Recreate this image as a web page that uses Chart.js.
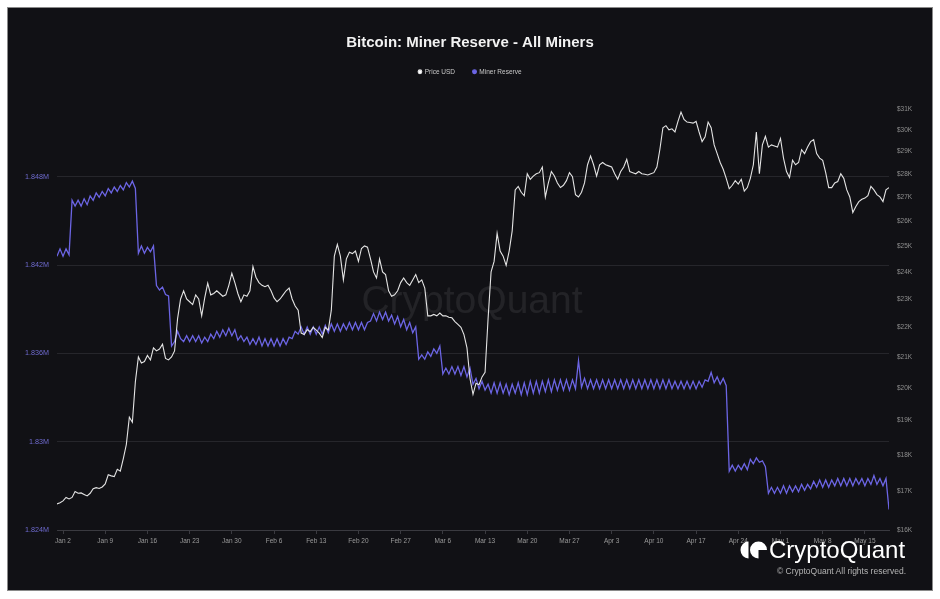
<!DOCTYPE html>
<html>
<head>
<meta charset="utf-8">
<title>Bitcoin: Miner Reserve - All Miners</title>
<script src="https://cdn.jsdelivr.net/npm/chart.js@4.4.0/dist/chart.umd.min.js"></script>
<style>
    html, body { margin: 0; padding: 0; background: #ffffff; }
    .panel {
        position: absolute; left: 7px; top: 7px; width: 926px; height: 584px;
        background: #111115; border: 1px solid #8a8a8a; box-sizing: border-box;
    }
    .wrap { position: absolute; left: 0; top: 0; width: 940px; height: 599px; }
    .brand {
        position: absolute; left: 739px; top: 535px; height: 30px;
        font-family: "Liberation Sans", Arial, sans-serif; color: #ffffff;
        font-size: 24px; line-height: 30px; white-space: nowrap;
    }
    .brand svg { position: absolute; left: 0; top: 6px; }
    .brand span { position: absolute; left: 30px; top: 0; }
    .copy {
        position: absolute; right: 34px; top: 566px;
        font-family: "Liberation Sans", Arial, sans-serif; color: #b4b4b4;
        font-size: 8.5px; line-height: 11px; white-space: nowrap;
    }
</style>
</head>
<body>
<div class="panel"></div>
<div class="wrap"><canvas id="reserveChart" width="940" height="599"></canvas></div>
<div class="brand">
    <svg width="28" height="18" viewBox="0 0 28 18">
        <path d="M9.5 0.5 A8 8.5 0 0 0 9.5 17.5 Z" fill="#ffffff"/>
        <path d="M19.5 0.5 A8.5 8.5 0 1 0 28 9 L19.5 9 Z" fill="#ffffff" transform="rotate(90 19.5 9)"/>
    </svg>
    <span>CryptoQuant</span>
</div>
<div class="copy">© CryptoQuant All rights reserved.</div>

<script>
// ===== Data (12-hour samples, day 0 = Jan 2) =====
const chartTitle = 'Bitcoin: Miner Reserve - All Miners';
const startDay = -1;
const stepDays = 0.5;

const xTickDays = [0, 7, 14, 21, 28, 35, 42, 49, 56, 63, 70, 77, 84, 91, 98, 105, 112, 119, 126, 133];
const xTickLabels = ['Jan 2','Jan 9','Jan 16','Jan 23','Jan 30','Feb 6','Feb 13','Feb 20','Feb 27','Mar 6',
    'Mar 13','Mar 20','Mar 27','Apr 3','Apr 10','Apr 17','Apr 24','May 1','May 8','May 15'];

const reserveTicks = [1.824, 1.830, 1.836, 1.842, 1.848];
const priceTicks = [16000,17000,18000,19000,20000,21000,22000,23000,24000,25000,26000,27000,28000,29000,30000,31000];

const priceUsd = [
    16670,16700,16750,16840,16800,16840,17000,16950,16960,16920,
    16880,16950,17070,17100,17080,17120,17200,17450,17420,17400,
    17600,17550,17900,18300,19100,18950,20200,21000,20800,20850,
    21050,20900,21300,21200,21260,21420,20950,20900,21000,21200,
    22300,23000,23300,23000,22900,22800,23150,23000,22400,23040,
    23580,23150,23200,23300,23200,23100,23150,23500,23950,23600,
    23200,22900,23150,23100,23300,24200,23800,23600,23500,23450,
    23500,23300,23040,22900,23000,23150,23300,23400,23000,22750,
    22600,21800,21750,21920,21850,22000,21900,21800,21650,22000,
    21900,22600,24600,25060,24600,23700,24500,24750,24700,24800,
    24400,24900,25000,24950,24500,24000,23770,24500,24000,23900,
    23300,23100,23150,23300,23600,23770,23600,23500,23700,23900,
    23600,23700,23400,22400,22400,22450,22400,22500,22400,22400,
    22350,22330,22200,22100,22000,21750,21300,20300,19800,20150,
    20100,20350,20500,22300,24000,24400,25500,24800,24600,24250,
    24800,25600,27300,27450,27200,27050,28000,27760,27900,28000,
    28050,28300,27000,27600,28100,27900,27600,27400,27500,27700,
    28050,27870,27100,27000,27200,27600,28400,28800,28400,27900,
    28400,28500,28400,28350,28300,28000,27760,28100,28300,28640,
    28100,28050,28000,28100,28000,27980,27950,28000,28050,28300,
    29100,30100,30200,30000,30050,29900,30400,30850,30500,30370,
    30350,30320,30400,29900,29450,29670,30370,30100,29300,28900,
    28500,28200,27800,27350,27500,27700,27550,27760,27250,27400,
    27800,28400,29900,28000,29300,29700,29200,29300,29250,29200,
    29600,28700,28100,27840,28600,28400,28500,29080,28900,29200,
    29450,29540,28900,28700,28600,28050,27400,27400,27600,27660,
    28000,27800,27300,27000,26350,26600,26800,26900,26950,27050,
    27450,27300,27100,27000,26800,27300,27400
];

// miner reserve in millions of BTC
const minerReserve = [
    1.8426,1.8431,1.8426,1.8431,1.8427,1.8464,1.8460,1.8464,1.8460,1.8465,
    1.8461,1.8467,1.8464,1.8469,1.8466,1.8470,1.8467,1.8472,1.8469,1.8473,
    1.8470,1.8474,1.8471,1.8476,1.8473,1.8477,1.8472,1.8428,1.8433,1.8428,
    1.8432,1.8429,1.8433,1.8406,1.8403,1.8405,1.8400,1.8399,1.8365,1.8368,
    1.8375,1.8370,1.8368,1.8372,1.8368,1.8372,1.8368,1.8372,1.8367,1.8371,
    1.8368,1.8373,1.8370,1.8375,1.8371,1.8376,1.8372,1.8377,1.8372,1.8376,
    1.8369,1.8372,1.8368,1.8371,1.8366,1.8370,1.8366,1.8371,1.8365,1.8370,
    1.8365,1.8370,1.8365,1.8370,1.8365,1.8370,1.8366,1.8371,1.8370,1.8375,
    1.8373,1.8378,1.8373,1.8378,1.8373,1.8378,1.8373,1.8378,1.8373,1.8379,
    1.8374,1.8380,1.8375,1.8380,1.8375,1.8380,1.8376,1.8381,1.8376,1.8381,
    1.8376,1.8381,1.8376,1.8381,1.8382,1.8387,1.8382,1.8388,1.8383,1.8388,
    1.8382,1.8386,1.8380,1.8385,1.8378,1.8383,1.8376,1.8381,1.8374,1.8378,
    1.8356,1.8359,1.8356,1.8361,1.8358,1.8363,1.8360,1.8365,1.8346,1.8350,
    1.8346,1.8351,1.8346,1.8351,1.8345,1.8351,1.8344,1.8350,1.8339,1.8343,
    1.8336,1.8341,1.8335,1.8339,1.8333,1.8340,1.8333,1.8340,1.8333,1.8339,
    1.8332,1.8339,1.8333,1.8340,1.8332,1.8340,1.8332,1.8341,1.8333,1.8341,
    1.8333,1.8341,1.8334,1.8342,1.8334,1.8342,1.8335,1.8342,1.8335,1.8342,
    1.8335,1.8342,1.8336,1.8355,1.8337,1.8343,1.8336,1.8342,1.8336,1.8342,
    1.8336,1.8342,1.8336,1.8342,1.8336,1.8342,1.8336,1.8342,1.8336,1.8342,
    1.8336,1.8342,1.8336,1.8342,1.8336,1.8342,1.8336,1.8342,1.8336,1.8342,
    1.8336,1.8342,1.8336,1.8342,1.8336,1.8341,1.8336,1.8341,1.8336,1.8341,
    1.8336,1.8341,1.8336,1.8341,1.8337,1.8342,1.8341,1.8347,1.8340,1.8344,
    1.8339,1.8343,1.8338,1.8280,1.8284,1.8280,1.8284,1.8281,1.8285,1.8281,
    1.8288,1.8285,1.8289,1.8286,1.8287,1.8283,1.8265,1.8269,1.8265,1.8269,
    1.8265,1.8270,1.8265,1.8270,1.8266,1.8270,1.8266,1.8271,1.8267,1.8271,
    1.8268,1.8273,1.8269,1.8274,1.8269,1.8274,1.8269,1.8274,1.8270,1.8275,
    1.8270,1.8275,1.8270,1.8275,1.8270,1.8275,1.8271,1.8275,1.8270,1.8275,
    1.8271,1.8277,1.8271,1.8275,1.8270,1.8275,1.8254
];

const toPoints = arr => arr.map((v, i) => ({ x: startDay + i * stepDays, y: v }));

Chart.defaults.font.family = '"Liberation Sans", Arial, sans-serif';

// extra room under the legend
const legendGap = {
    id: 'legendGap',
    beforeInit(chart) {
        const fit = chart.legend.fit;
        chart.legend.fit = function () {
            fit.call(this);
            this.height += 24;
        };
    }
};

// faint CryptoQuant watermark behind the lines
const watermark = {
    id: 'watermark',
    beforeDatasetsDraw(chart) {
        const ctx = chart.ctx;
        ctx.save();
        ctx.font = '39px "Liberation Sans", Arial, sans-serif';
        ctx.fillStyle = 'rgba(255,255,255,0.08)';
        ctx.textAlign = 'center';
        ctx.textBaseline = 'middle';
        ctx.fillText('CryptoQuant', 472, 302);
        ctx.restore();
    }
};

const ctx = document.getElementById('reserveChart').getContext('2d');
const reserveChart = new Chart(ctx, {
    type: 'line',
    data: {
        datasets: [{
            label: 'Price USD',
            data: toPoints(priceUsd),
            yAxisID: 'price',
            borderColor: '#e4e4e4',
            backgroundColor: '#ffffff',
            borderWidth: 1.1,
            pointRadius: 0,
            tension: 0,
            order: 0
        }, {
            label: 'Miner Reserve',
            data: toPoints(minerReserve),
            yAxisID: 'reserve',
            borderColor: '#6c65e4',
            backgroundColor: '#6c65e4',
            borderWidth: 1.3,
            pointRadius: 0,
            tension: 0,
            order: 1
        }]
    },
    options: {
        responsive: false,
        animation: false,
        layout: { padding: { top: 0, left: 0, right: 0, bottom: 49 } },
        plugins: {
            title: {
                display: true,
                text: chartTitle,
                color: '#f2f2f2',
                font: { size: 15, weight: 'bold', lineHeight: 1 },
                padding: { top: 35.5, bottom: 0 }
            },
            legend: {
                display: true,
                position: 'top',
                labels: {
                    usePointStyle: true,
                    pointStyle: 'circle',
                    boxWidth: 3,
                    boxHeight: 2.6,
                    padding: 18,
                    color: '#c8c8c8',
                    font: { size: 6.5 }
                }
            },
            tooltip: { enabled: false }
        },
        scales: {
            x: {
                type: 'linear',
                min: -1,
                max: 137,
                afterBuildTicks: scale => { scale.ticks = xTickDays.map(v => ({ value: v })); },
                afterFit: scale => { scale.height = 20; },
                grid: { display: true, drawOnChartArea: false, drawTicks: true, tickLength: 4, color: '#3a3a40' },
                border: { display: true, color: '#3a3a40' },
                ticks: {
                    color: '#9a9a9a',
                    font: { size: 6.5 },
                    padding: 3,
                    autoSkip: false,
                    maxRotation: 0,
                    callback: (value, index) => xTickLabels[index]
                }
            },
            reserve: {
                type: 'linear',
                position: 'left',
                min: 1.824,
                max: 1.8526,
                afterBuildTicks: scale => { scale.ticks = reserveTicks.map(v => ({ value: v })); },
                afterFit: scale => { scale.width = 57; },
                grid: { color: '#26262b', lineWidth: 1, drawTicks: false },
                border: { display: false },
                ticks: {
                    color: '#6f6bd0',
                    font: { size: 7.2 },
                    padding: 8,
                    autoSkip: false,
                    callback: v => parseFloat(v.toFixed(3)) + 'M'
                }
            },
            price: {
                type: 'logarithmic',
                position: 'right',
                min: 16000,
                max: 31000,
                afterBuildTicks: scale => { scale.ticks = priceTicks.map(v => ({ value: v })); },
                afterFit: scale => { scale.width = 51; },
                grid: { drawOnChartArea: false, drawTicks: false },
                border: { display: false },
                ticks: {
                    color: '#8d8d8d',
                    font: { size: 6.5 },
                    padding: 8,
                    autoSkip: false,
                    callback: v => '$' + (v / 1000) + 'K'
                }
            }
        }
    },
    plugins: [legendGap, watermark]
});
</script>
</body>
</html>
